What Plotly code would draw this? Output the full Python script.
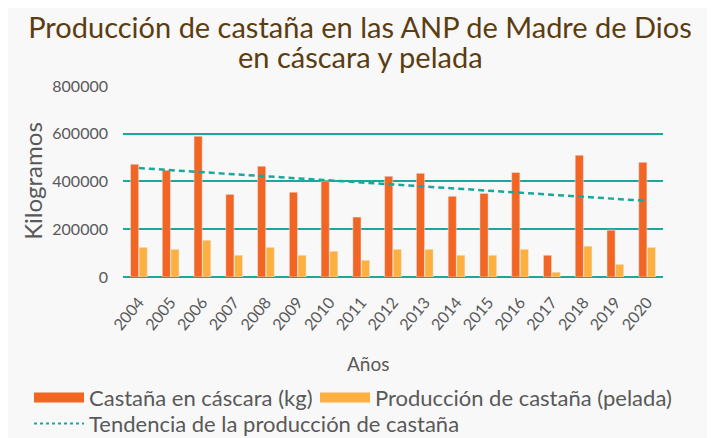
import plotly.graph_objects as go
import numpy as np

years = [str(y) for y in range(2004, 2021)]
cascara = [472000, 447000, 589000, 346000, 464000, 355000, 402000, 251000, 422000,
           434000, 338000, 350000, 438000, 91000, 510000, 196000, 480000]
pelada = [124000, 116000, 154000, 91000, 124000, 91000, 108000, 70000, 116000,
          116000, 91000, 91000, 116000, 20000, 129000, 53000, 124000]

title_line1 = "Producción de castaña en las ANP de Madre de Dios"
title_line2 = "en cáscara y pelada"
x_title = "Años"
name_cas = "Castaña en cáscara (kg)"
name_pel = "Producción de castaña (pelada)"
name_trend = "Tendencia de la producción de castaña"

ORANGE = "#F26522"
YELLOW = "#FBB040"
TEAL = "#1AA89C"
GRAY = "#595959"
BROWN = "#5C3D11"
FONT = "Lato"

idx = np.arange(len(years))
slope, intercept = np.polyfit(idx, cascara, 1)
trend = list(intercept + slope * idx)

fig = go.Figure()
fig.add_trace(go.Bar(x=years, y=cascara, marker_color=ORANGE, name=name_cas, showlegend=False))
fig.add_trace(go.Bar(x=years, y=pelada, marker_color=YELLOW, name=name_pel, showlegend=False))
fig.add_trace(go.Scatter(x=years, y=trend, mode="lines", name=name_trend, showlegend=False,
                         line=dict(color=TEAL, width=2.5, dash="6px,4px")))
# legend entries (one legend per entry for exact placement)
fig.add_trace(go.Scatter(x=[None], y=[None], mode="lines", name=name_cas, legend="legend",
                         line=dict(color=ORANGE, width=11)))
fig.add_trace(go.Scatter(x=[None], y=[None], mode="lines", name=name_pel, legend="legend2",
                         line=dict(color=YELLOW, width=11)))
fig.add_trace(go.Scatter(x=[None], y=[None], mode="lines", name=name_trend, legend="legend3",
                         line=dict(color=TEAL, width=2, dash="dot")))

# page body has an 8px margin: figure drawn from (8, 8)
W, H = 707, 430
OFF = 8
PL, PT, PW, PH = 123, 86, 540, 191   # plot area in page pixels (approx)

def px_x(x):
    return (x - PL) / PW

def px_y(y):
    return (PT + PH - y) / PH

leg_common = dict(orientation="h", xanchor="left", yanchor="middle", itemwidth=50,
                  font=dict(size=22, color=GRAY), bgcolor="rgba(0,0,0,0)")

fig.update_layout(
    width=W, height=H,
    margin=dict(l=115, r=52, t=77, b=161, autoexpand=False),
    paper_bgcolor="#F8F8F8", plot_bgcolor="rgba(0,0,0,0)",
    font=dict(family=FONT, color=GRAY, size=15),
    title=dict(text=title_line1,
               x=(360 - OFF) / W, xanchor="center", xref="container",
               y=1 - (28 - OFF) / H, yanchor="middle", yref="container",
               font=dict(family=FONT, size=29, color=BROWN)),
    annotations=[
        dict(text=title_line2, xref="paper", yref="paper",
             x=px_x(360), xanchor="center", y=px_y(58), yanchor="middle", showarrow=False,
             font=dict(family=FONT, size=29, color=BROWN)),
        dict(text=x_title, xref="paper", yref="paper",
             x=px_x(368), xanchor="center", y=px_y(363), yanchor="middle", showarrow=False,
             font=dict(family=FONT, size=19, color=GRAY)),
    ],
    barmode="group", bargap=0.46, bargroupgap=0.05,
    xaxis=dict(type="category", tickangle=-50, showgrid=False, showline=False,
               tickfont=dict(size=16, color=GRAY), ticklabelstandoff=12),
    yaxis=dict(range=[0, 804000], tickvals=[0, 200000, 400000, 600000, 800000],
               ticktext=["0", "200000", "400000", "600000", "800000"],
               showgrid=True, gridcolor=TEAL, gridwidth=2,
               zeroline=True, zerolinecolor=TEAL, zerolinewidth=2,
               tickfont=dict(size=16, color=GRAY), ticklabelstandoff=14,
               title=dict(text="Kilogramos", font=dict(size=24, color=GRAY), standoff=2)),
    legend=dict(x=px_x(29), y=px_y(397), **leg_common),
    legend2=dict(x=px_x(315), y=px_y(397), **leg_common),
    legend3=dict(x=px_x(29), y=px_y(423), **leg_common),
)

fig.write_html("out.html")
